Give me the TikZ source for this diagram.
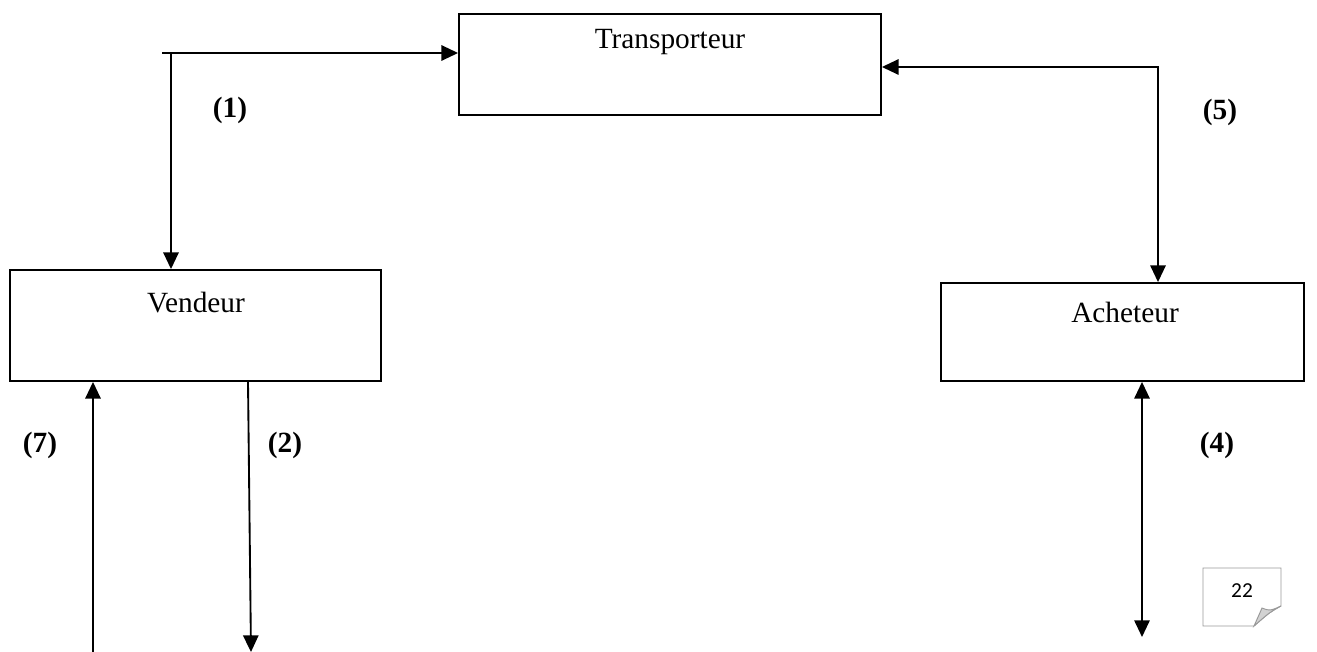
\documentclass[tikz,border=0pt]{standalone}
\usepackage{fontspec}
\setmainfont{Liberation Serif}
\newfontfamily\pagenumfont{Carlito}
\usetikzlibrary{arrows.meta}
\begin{document}
\begin{tikzpicture}[x=0.75pt,y=-0.75pt,
  actor/.style={draw,line width=1.4pt,rectangle,inner sep=0pt},
  title/.style={anchor=base,font=\fontsize{22}{26}\selectfont},
  num/.style={anchor=base,font=\fontsize{22}{26}\selectfont\bfseries},
  tip/.style={Triangle[length=12.5pt,width=11.5pt]},
  flow/.style={line width=1.4pt,arrows={-Triangle[length=12.5pt,width=11.5pt]}},
  flow2/.style={line width=1.4pt,arrows={Triangle[length=12.5pt,width=11.5pt]-Triangle[length=12.5pt,width=11.5pt]}},
]
\useasboundingbox (0,0) rectangle (1317,652);

% the three parties
\node[actor,minimum width=316.5pt,minimum height=75.75pt] (T) at (670,64.5) {};
\node[actor,minimum width=278.25pt,minimum height=83.25pt] (V) at (195.5,325.5) {};
\node[actor,minimum width=272.25pt,minimum height=73.5pt] (A) at (1122.5,332) {};
\node[title] (Tt) at (670,49) {Transporteur};
\node[title] (Vt) at (196,312) {Vendeur};
\node[title] (At) at (1125,322) {Acheteur};

% corner and end points of the flows
\coordinate (c1s) at (162,53);
\coordinate (c1v) at (171,53);
\coordinate (c5) at (1158,67);
\coordinate (c7) at (93,654);
\coordinate (c2x) at (248,0);
\coordinate (c2e) at (251,652);
\coordinate (c4) at (1142,637);

% flows
\draw[flow] (c1s) -- (T.west |- c1s);
\draw[flow] (c1v) -- (V.north -| c1v);
\draw[flow2] (T.east |- c5) -- (c5) -- (A.north -| c5);
\draw[flow] (c7) -- (V.south -| c7);
\draw[flow] (V.south -| c2x) -- (c2e);
\draw[flow2] (A.south -| c4) -- (c4);

% flow numbers
\node[num] (n1) at (230,118) {(1)};
\node[num] (n5) at (1220,120) {(5)};
\node[num] (n7) at (40,452) {(7)};
\node[num] (n2) at (285,452) {(2)};
\node[num] (n4) at (1217,452) {(4)};

% page number sticker
\draw[gray!80,line width=0.7pt,fill=white]
  (1203,568) -- (1281,568) -- (1281,606) .. controls (1270,612) .. (1254,626) -- (1203,626) -- cycle;
\draw[gray!80,line width=0.7pt,fill=gray!35]
  (1254,626) .. controls (1258,617) .. (1262,608) .. controls (1270,611) .. (1281,606)
  .. controls (1270,612) .. (1254,626) -- cycle;
\node[font=\pagenumfont\fontsize{16}{19}\selectfont] (pg) at (1242,591) {22};
\end{tikzpicture}
\end{document}
